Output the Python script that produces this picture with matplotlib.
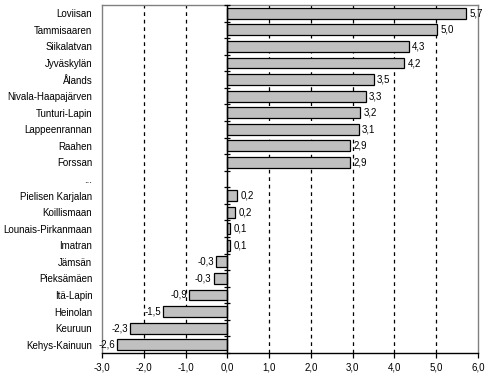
import numpy as np
import matplotlib
matplotlib.use("Agg")
import matplotlib.pyplot as plt

categories = ["Loviisan", "Tammisaaren", "Siikalatvan", "Jyväskylän", "Ålands",
              "Nivala-Haapajärven", "Tunturi-Lapin", "Lappeenrannan", "Raahen", "Forssan",
              "...", "Pielisen Karjalan", "Koillismaan", "Lounais-Pirkanmaan", "Imatran",
              "Jämsän", "Pieksämäen", "Itä-Lapin", "Heinolan", "Keuruun", "Kehys-Kainuun"]
values = [5.71, 5.03, 4.34, 4.24, 3.50, 3.31, 3.17, 3.14, 2.94, 2.93,
          np.nan, 0.24, 0.18, 0.07, 0.07, -0.27, -0.33, -0.91, -1.53, -2.32, -2.64]
xticks = [-3, -2, -1, 0, 1, 2, 3, 4, 5, 6]

plt.rcParams['font.family'] = ['Liberation Sans', 'DejaVu Sans']
fs = 7

fig = plt.figure(figsize=(4.91, 3.79), dpi=100)
ax = fig.add_axes([102/491, 1-353/379, (478-102)/491, (353-5)/379])

y = np.arange(len(categories))
ax.barh(y, values, height=0.65, color='#c0c0c0', edgecolor='black', linewidth=0.9, zorder=3)

for yi, v in zip(y, values):
    if np.isnan(v):
        continue
    lab = f"{v:.1f}".replace('.', ',')
    if v >= 0:
        ax.annotate(lab, (v, yi), xytext=(2.5, 0), textcoords='offset points',
                    ha='left', va='center', fontsize=fs, zorder=4)
    else:
        ax.annotate(lab, (v, yi), xytext=(-1.5, 0), textcoords='offset points',
                    ha='right', va='center', fontsize=fs, zorder=4)

ax.set_xlim(-3, 6)
ax.set_ylim(len(categories)-0.5, -0.5)
ax.set_xticks(xticks)
ax.set_xticklabels([f"{t:.1f}".replace('.', ',') for t in xticks], fontsize=fs)
ax.set_yticks(y)
ax.set_yticklabels(categories, fontsize=fs)
ax.tick_params(axis='y', length=0, pad=7)
ax.tick_params(axis='x', length=3.5, direction='out', width=0.9, pad=3)

for t in xticks:
    if t not in (-3, 0, 6):
        ax.axvline(t, color='black', linestyle=(0, (3, 3)), linewidth=0.9, zorder=1)

ax.axvline(0, color='black', linewidth=1.0, zorder=4)

for s in ['left', 'top', 'right']:
    ax.spines[s].set_color('#808080')
    ax.spines[s].set_linewidth(1.0)
ax.spines['bottom'].set_color('black')
ax.spines['bottom'].set_linewidth(1.0)

ax2 = ax.twinx()
ax2.set_ylim(ax.get_ylim())
for s in ['top', 'right', 'bottom']:
    ax2.spines[s].set_visible(False)
ax2.spines['left'].set_position(('data', 0))
ax2.spines['left'].set_color('black')
ax2.yaxis.set_ticks_position('left')
ax2.set_yticks(np.arange(len(categories)+1) - 0.5)
ax2.set_yticklabels([])
ax2.tick_params(axis='y', direction='inout', length=4.5, width=0.9)

fig.savefig("out.png", dpi=100)
